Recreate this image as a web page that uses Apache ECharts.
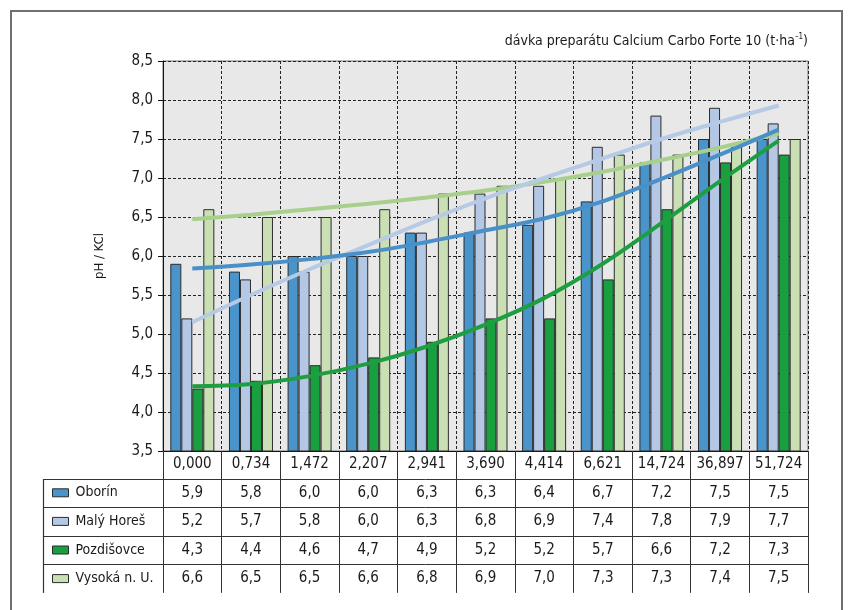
<!DOCTYPE html>
<html>
<head>
<meta charset="utf-8">
<script src="https://cdn.jsdelivr.net/npm/echarts@6/dist/echarts.min.js"></script>
<style>
  html, body { margin: 0; padding: 0; background: #ffffff; }
  #chart { width: 848px; height: 610px; }
</style>
</head>
<body>
<div id="chart"></div>
<script>
// Dávka preparátu (t·ha-1) – kategorie na ose x
const doses = ['0,000', '0,734', '1,472', '2,207', '2,941', '3,690', '4,414', '6,621', '14,724', '36,897', '51,724'];

// Lokality
const sites = ['Oborín', 'Malý Horeš', 'Pozdišovce', 'Vysoká n. U.'];

// pH / KCl po lokalitách
const oborin     = [5.9, 5.8, 6.0, 6.0, 6.3, 6.3, 6.4, 6.7, 7.2, 7.5, 7.5];
const malyHores  = [5.2, 5.7, 5.8, 6.0, 6.3, 6.8, 6.9, 7.4, 7.8, 7.9, 7.7];
const pozdisovce = [4.3, 4.4, 4.6, 4.7, 4.9, 5.2, 5.2, 5.7, 6.6, 7.2, 7.3];
const vysoka     = [6.6, 6.5, 6.5, 6.6, 6.8, 6.9, 7.0, 7.3, 7.3, 7.4, 7.5];

// Spojnice trendu
const trendOborin     = [5.84, 5.89, 5.96, 6.05, 6.18, 6.33, 6.48, 6.70, 6.99, 7.30, 7.62];
const trendMalyHores  = [5.15, 5.50, 5.83, 6.14, 6.45, 6.74, 7.00, 7.25, 7.50, 7.72, 7.93];
const trendPozdisovce = [4.33, 4.36, 4.46, 4.62, 4.84, 5.12, 5.46, 5.90, 6.42, 6.96, 7.48];
const trendVysoka     = [6.47, 6.53, 6.60, 6.67, 6.75, 6.84, 6.95, 7.08, 7.23, 7.39, 7.57];

// Osa y
const yMin = 3.5, yMax = 8.5, yStep = 0.5;

const barColors   = ['#4a94cc', '#b4c8e6', '#18a040', '#cae0b4'];
const trendColors = ['#4a90c8', '#b6cae6', '#1e9e40', '#a8d08c'];

const FONT = "'Liberation Sans Narrow', 'Arial Narrow', 'DejaVu Sans Condensed', sans-serif";
const fmt = v => v.toFixed(1).replace('.', ',');

// Rozvržení
const W = 848, H = 610;
const gridLeft = 163, gridRight = 808, gridTop = 61, gridBottom = 451;
const rowH = 28.6;
const tableLeft = 43;
const headerBottom = gridBottom + 27.5;
const tableBottom = headerBottom + rowH * 4;

const chart = echarts.init(document.getElementById('chart'), null, { renderer: 'canvas' });

const values = [oborin, malyHores, pozdisovce, vysoka];
const trends = [trendOborin, trendMalyHores, trendPozdisovce, trendVysoka];

// Řádky tabulky jako další osy x pod grafem
const rowAxes = values.map((arr, i) => ({
  type: 'category',
  gridIndex: 0,
  position: 'bottom',
  data: arr.map(fmt),
  axisLine: { show: false },
  axisTick: { show: false },
  splitLine: { show: false },
  axisLabel: {
    interval: 0,
    margin: headerBottom - gridBottom + rowH * (i + 0.5),
    verticalAlign: 'middle',
    fontFamily: FONT, fontSize: 15, color: '#1a1a1a'
  }
}));

const barSeries = values.map((arr, i) => ({
  name: sites[i],
  type: 'bar',
  xAxisIndex: 0,
  data: arr,
  barWidth: 11,
  barGap: '0%',
  itemStyle: { color: barColors[i], borderColor: '#2b2b2b', borderWidth: 1 },
  z: 2
}));

const trendOrder = [3, 1, 0, 2];
const trendSeries = trendOrder.map(i => ({
  name: sites[i] + ' – trend',
  type: 'line',
  xAxisIndex: 0,
  data: trends[i],
  smooth: 0.4,
  symbol: 'none',
  lineStyle: { color: trendColors[i], width: 4 },
  itemStyle: { color: trendColors[i] },
  z: 5
}));

// Čáry tabulky
const tableLines = [];
for (let r = 0; r < 4; r++) {
  const y = Math.round(headerBottom + rowH * r) + 0.5;
  tableLines.push({
    type: 'line',
    shape: { x1: tableLeft, y1: y, x2: gridRight, y2: y },
    style: { stroke: '#333', lineWidth: 1 }
  });
}
tableLines.push({
  type: 'line',
  shape: { x1: tableLeft + 0.5, y1: Math.round(headerBottom), x2: tableLeft + 0.5, y2: tableBottom },
  style: { stroke: '#333', lineWidth: 1.2 }
});

const option = {
  animation: false,
  backgroundColor: '#ffffff',
  textStyle: { fontFamily: FONT },
  title: {
    text: 'dávka preparátu Calcium Carbo Forte 10 (t·ha{sup|–1})',
    right: W - gridRight,
    top: 33,
    padding: 0,
    textStyle: {
      fontFamily: FONT, fontSize: 14, fontWeight: 'normal', color: '#1a1a1a',
      rich: { sup: { fontFamily: FONT, fontSize: 8, verticalAlign: 'top', lineHeight: 16, color: '#1a1a1a' } }
    }
  },
  legend: {
    data: sites,
    orient: 'vertical',
    left: 52,
    top: headerBottom + rowH / 2 - 10,
    padding: 0,
    itemWidth: 16,
    itemHeight: 8,
    itemGap: rowH - 20,
    icon: 'rect',
    selectedMode: false,
    itemStyle: { borderColor: '#2b2b2b', borderWidth: 1 },
    textStyle: { fontFamily: FONT, fontSize: 14, color: '#1a1a1a', lineHeight: 20, padding: [0, 0, 0, 2] }
  },
  grid: {
    left: gridLeft, right: W - gridRight, top: gridTop, bottom: H - gridBottom,
    show: true, backgroundColor: '#e8e8e8', borderColor: '#777', borderWidth: 1
  },
  xAxis: [{
    type: 'category',
    gridIndex: 0,
    data: doses,
    boundaryGap: true,
    axisLine: { show: true, lineStyle: { color: '#111', width: 1 } },
    axisTick: {
      show: true, interval: 0, inside: false,
      length: tableBottom - gridBottom,
      lineStyle: { color: '#333', width: 1 }
    },
    axisLabel: {
      interval: 0, margin: 13.5, verticalAlign: 'middle',
      fontFamily: FONT, fontSize: 15, color: '#1a1a1a'
    },
    splitLine: { show: true, interval: 0, lineStyle: { color: '#222', type: [3, 2], width: 1 } }
  }].concat(rowAxes),
  yAxis: {
    type: 'value',
    min: yMin, max: yMax, interval: yStep,
    name: 'pH / KCl',
    nameLocation: 'middle',
    nameRotate: 90,
    nameGap: 57,
    nameTextStyle: { fontFamily: FONT, fontSize: 13, color: '#1a1a1a' },
    axisLine: { show: true, lineStyle: { color: '#111', width: 1 } },
    axisTick: { show: true, length: 5, lineStyle: { color: '#111' } },
    axisLabel: { formatter: fmt, margin: 10, fontFamily: FONT, fontSize: 15, color: '#1a1a1a' },
    splitLine: { show: true, lineStyle: { color: '#222', type: [3, 2], width: 1 } }
  },
  series: barSeries.concat(trendSeries),
  graphic: [{
    type: 'rect',
    shape: { x: 11, y: 11, width: 831, height: 620 },
    style: { fill: 'none', stroke: '#707070', lineWidth: 2 },
    silent: true
  }].concat(tableLines)
};

chart.setOption(option);
</script>
</body>
</html>
